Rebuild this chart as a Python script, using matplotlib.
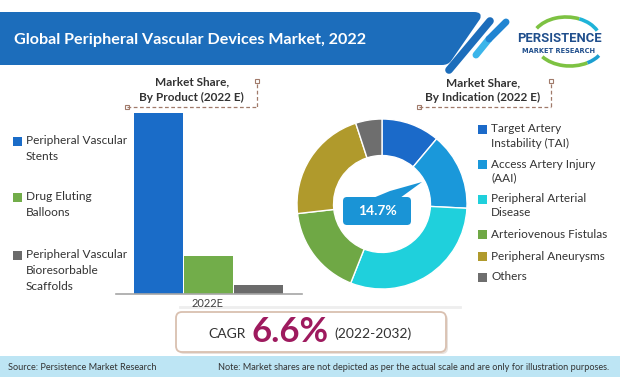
import matplotlib
matplotlib.use('Agg')
import matplotlib.pyplot as plt
from matplotlib.patches import Rectangle, FancyBboxPatch, Polygon, Arc, PathPatch
from matplotlib.path import Path

# ---------------- data ----------------
title = 'Global Peripheral Vascular Devices Market, 2022'
product_labels = ['Peripheral Vascular\nStents', 'Drug Eluting\nBalloons',
                  'Peripheral Vascular\nBioresorbable\nScaffolds']
product_share = [79.2, 16.7, 4.1]
product_colors = ['#1a6cc8', '#72ad4a', '#6b6b6b']
bar_category = '2022E'

indication_labels = ['Target Artery\nInstability (TAI)', 'Access Artery Injury\n(AAI)',
                     'Peripheral Arterial\nDisease', 'Arteriovenous Fistulas',
                     'Peripheral Aneurysms', 'Others']
indication_share = [11.1, 14.7, 30.2, 17.2, 21.8, 5.0]
indication_colors = ['#1b6ac9', '#1a98da', '#1fd0dc', '#6fa845', '#b09a2c', '#6e6e6e']
highlight_label = '14.7%'
cagr_value = '6.6%'
cagr_period = '(2022-2032)'

FONT = ['Lato', 'DejaVu Sans']
plt.rcParams['font.family'] = FONT

W, H = 620, 377
fig = plt.figure(figsize=(W / 100, H / 100), dpi=100)

# ---------------- decoration axes (pixel coords) ----------------
deco = fig.add_axes([0, 0, 1, 1])
deco.set_xlim(0, W)
deco.set_ylim(H, 0)
deco.axis('off')

# banner
verts = [(0, 12), (474, 12), (483, 12), (480, 19), (451, 61), (448, 65), (442, 65), (0, 65), (0, 12)]
codes = [Path.MOVETO, Path.LINETO, Path.CURVE3, Path.CURVE3, Path.LINETO,
         Path.CURVE3, Path.CURVE3, Path.LINETO, Path.CLOSEPOLY]
deco.add_patch(PathPatch(Path(verts, codes), facecolor='#1c6dbb', edgecolor='none'))
deco.text(14, 40, title, color='white', fontsize=11.6, fontweight='bold',
          va='center', ha='left', family=FONT)

# stripes
deco.plot([449, 490], [70, 21], color='#1c6dbb', lw=5.5, solid_capstyle='round')
deco.plot([476, 489], [55, 39], color='#3bb5ea', lw=5, solid_capstyle='round')
deco.plot([489, 506], [39, 22], color='#2185d2', lw=5, solid_capstyle='round')

# logo
deco.add_patch(Arc((570, 42), 70, 48, theta1=50, theta2=152, color='#7dc242', lw=2.6))
deco.add_patch(Arc((570, 42), 70, 48, theta1=25, theta2=50, color='#1c9fd0', lw=2.6))
deco.add_patch(Arc((566, 42), 70, 50, theta1=205, theta2=300, color='#7dc242', lw=2.6))
deco.add_patch(Arc((566, 42), 70, 50, theta1=300, theta2=340, color='#1fb3d8', lw=2.6))
deco.add_patch(Rectangle((514, 31), 90, 26, facecolor='white', edgecolor='none', alpha=0.0))
deco.text(559, 39, 'PERSISTENCE', color='#1f4e8c', fontsize=9.4, fontweight='bold',
          ha='center', va='center', family=['Roboto', 'DejaVu Sans'])
deco.text(559, 51, 'MARKET RESEARCH', color='#1f4e8c', fontsize=4.8, fontweight='bold',
          ha='center', va='center', family=['DejaVu Sans'])

# subtitles with dashed brackets
brown = '#a07a6a'
def bracket(x0, x1, y, ytop):
    deco.plot([x0, x1], [y, y], ls=(0, (3, 2)), color=brown, lw=0.9)
    deco.plot([x1, x1], [ytop + 3, y], ls=(0, (3, 2)), color=brown, lw=0.9)
    for (cx, cy) in [(x0, y), (x1, ytop)]:
        deco.add_patch(Rectangle((cx - 2, cy - 2), 4, 4, facecolor='white', edgecolor=brown, lw=0.8))

deco.text(192, 82, 'Market Share,', fontsize=8.5, fontweight='bold', color='#333333', ha='center', va='center')
deco.text(191, 97, 'By Product (2022 E)', fontsize=8.5, fontweight='bold', color='#333333', ha='center', va='center')
bracket(127, 257, 107, 81)
deco.text(483, 83, 'Market Share,', fontsize=8.5, fontweight='bold', color='#333333', ha='center', va='center')
deco.text(483, 97, 'By Indication (2022 E)', fontsize=8.5, fontweight='bold', color='#333333', ha='center', va='center')
bracket(419, 551, 107, 81)

# left legend
left_y = [141, 197, 255]
for lab, col, y in zip(product_labels, product_colors, left_y):
    deco.add_patch(Rectangle((13, y - 4.5), 9, 9, facecolor=col, edgecolor='none'))
    for i, line in enumerate(lab.split('\n')):
        deco.text(26, y + i * 15.5, line, fontsize=8.6, color='#333333', ha='left', va='center')

# right legend
right_y = [129, 164, 199, 234, 256, 277]
for lab, col, y in zip(indication_labels, indication_colors, right_y):
    deco.add_patch(Rectangle((478, y - 4.5), 9, 9, facecolor=col, edgecolor='none'))
    for i, line in enumerate(lab.split('\n')):
        deco.text(491, y + i * 14, line, fontsize=8.5, color='#333333', ha='left', va='center')

# faint shadow line
deco.plot([180, 460], [307, 307], color='#eeeeee', lw=2)

# CAGR box
deco.add_patch(FancyBboxPatch((178, 314), 270, 40, boxstyle='round,pad=0,rounding_size=6',
                              facecolor='#e8e2de', edgecolor='none'))
deco.add_patch(FancyBboxPatch((176, 312), 270, 40, boxstyle='round,pad=0,rounding_size=6',
                              facecolor='white', edgecolor='#d9c0b0', lw=1.3))
deco.text(227, 334, 'CAGR', fontsize=10, color='#333333', ha='center', va='center')
deco.text(290, 332, cagr_value, fontsize=25, fontweight='bold', color='#9e1a5e', ha='center', va='center')
deco.text(373, 334, cagr_period, fontsize=10, color='#333333', ha='center', va='center')

# footer
deco.add_patch(Rectangle((0, 356), W, 21, facecolor='#bde5f4', edgecolor='none'))
deco.text(8, 367, 'Source: Persistence Market Research', fontsize=6.6, color='#333333', ha='left', va='center')
deco.text(218, 367, 'Note: Market shares are not depicted as per the actual scale and are only for illustration purposes.',
          fontsize=6.6, color='#333333', ha='left', va='center')

# ---------------- bar chart ----------------
bx = fig.add_axes([116 / W, (H - 294) / H, 186 / W, 181 / H])
pos = list(range(len(product_share)))
bx.bar(pos, product_share, width=0.98, color=product_colors)
bx.set_xlim(-0.84, 2.88)
bx.set_ylim(0, max(product_share))
for s in ['top', 'right', 'left']:
    bx.spines[s].set_visible(False)
bx.spines['bottom'].set_color('#a6a6a6')
bx.spines['bottom'].set_linewidth(1.2)
bx.set_yticks([])
bx.set_xticks([1])
bx.set_xticklabels([bar_category], fontsize=8, color='#404040')
bx.tick_params(axis='x', length=0, pad=3)
bx.patch.set_alpha(0)

# ---------------- donut ----------------
px = fig.add_axes([297 / W, (H - 289) / H, 170 / W, 170 / H])
px.pie(indication_share, colors=indication_colors, startangle=90, counterclock=False,
       radius=1, wedgeprops=dict(width=0.43, edgecolor='white', linewidth=1))
px.set_xlim(-1, 1)
px.set_ylim(-1, 1)
px.set_aspect('equal')
px.axis('off')

# ---------------- overlay callout ----------------
ov = fig.add_axes([0, 0, 1, 1], zorder=5)
ov.set_xlim(0, W)
ov.set_ylim(H, 0)
ov.axis('off')
ov.patch.set_alpha(0)
ov.add_patch(Polygon([(373, 198), (390, 191), (422, 182), (400, 198)], closed=True,
                     facecolor='#1a94d6', edgecolor='none'))
ov.add_patch(FancyBboxPatch((343, 197), 68, 28, boxstyle='round,pad=0,rounding_size=4',
                            facecolor='#1a94d6', edgecolor='none'))
ov.text(377, 211, highlight_label, fontsize=10, fontweight='bold', color='white', ha='center', va='center')

fig.savefig('out.png', dpi=100)
